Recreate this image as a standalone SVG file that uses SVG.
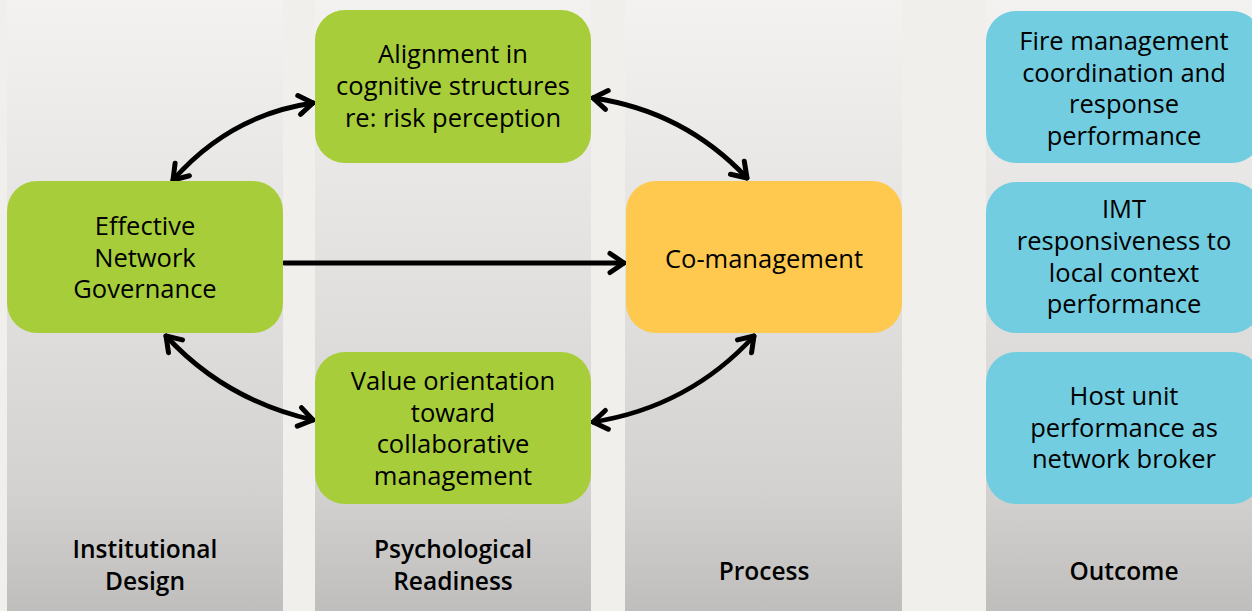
<svg xmlns="http://www.w3.org/2000/svg" width="1252" height="611" viewBox="0 0 1252 611">
<defs>
<linearGradient id="colg" x1="0" y1="0" x2="0" y2="1">
<stop offset="0" stop-color="#f3f2f0"/>
<stop offset="0.5" stop-color="#e0dfdd"/>
<stop offset="0.8" stop-color="#d3d2d0"/>
<stop offset="1" stop-color="#bfbebc"/>
</linearGradient>
<marker id="ah" markerUnits="userSpaceOnUse" markerWidth="40" markerHeight="40" refX="0" refY="0" viewBox="-20 -20 40 40" orient="auto-start-reverse" overflow="visible">
<path d="M-14,-9.5 L0,0 L-14,9.5" fill="none" stroke="#000" stroke-width="5" stroke-linecap="round" stroke-linejoin="round"/>
</marker>
<style>
.col{fill:url(#colg)}
.green{fill:#a7ce3a}
.yellow{fill:#fec94e}
.blue{fill:#72cde0}
.t{font-family:"Open Sans","Noto Sans",sans-serif;font-size:25.5px;fill:#000;text-anchor:middle}
.lab{font-family:"Open Sans","Noto Sans",sans-serif;font-size:24.5px;font-weight:600;fill:#000;text-anchor:middle}
.c{fill:none;stroke:#000;stroke-width:4.8;stroke-linecap:round}
</style>
</defs>
<rect x="0" y="0" width="1252" height="611" fill="#f0efec"/>
<g id="columns">
<rect class="col" x="7" y="0" width="276" height="611"/>
<rect class="col" x="315" y="0" width="276" height="611"/>
<rect class="col" x="625" y="0" width="277" height="611"/>
<rect class="col" x="986" y="0" width="266" height="611"/>
</g>
<g id="labels">
<text class="lab" x="145" y="558">Institutional</text>
<text class="lab" x="145" y="590">Design</text>
<text class="lab" x="453" y="558">Psychological</text>
<text class="lab" x="453" y="590">Readiness</text>
<text class="lab" x="764" y="580">Process</text>
<text class="lab" x="1124" y="580">Outcome</text>
</g>
<g id="connectors">
<path class="c" d="M173,180 Q230,115 313,103" marker-start="url(#ah)" marker-end="url(#ah)"/>
<path class="c" d="M593,98 Q684,111 747,178" marker-start="url(#ah)" marker-end="url(#ah)"/>
<path class="c" d="M166,336 Q225,400 313,420" marker-start="url(#ah)" marker-end="url(#ah)"/>
<path class="c" d="M593,422 Q689,407 754,336" marker-start="url(#ah)" marker-end="url(#ah)"/>
<path class="c" d="M284,263 L624,263" marker-end="url(#ah)"/>
</g>
<g id="node-eng">
<rect class="green" x="7" y="181" width="276" height="152" rx="30"/>
<text class="t" x="145" y="235">Effective</text>
<text class="t" x="145" y="267">Network</text>
<text class="t" x="145" y="298">Governance</text>
</g>
<g id="node-alignment">
<rect class="green" x="315" y="10" width="276" height="153" rx="30"/>
<text class="t" x="453" y="63">Alignment in</text>
<text class="t" x="453" y="95">cognitive structures</text>
<text class="t" x="453" y="127">re: risk perception</text>
</g>
<g id="node-value">
<rect class="green" x="315" y="352" width="276" height="152" rx="30"/>
<text class="t" x="453" y="390">Value orientation</text>
<text class="t" x="453" y="422">toward</text>
<text class="t" x="453" y="453">collaborative</text>
<text class="t" x="453" y="485">management</text>
</g>
<g id="node-comanagement">
<rect class="yellow" x="626" y="181" width="276" height="152" rx="30"/>
<text class="t" x="764" y="268">Co-management</text>
</g>
<g id="node-fire">
<rect class="blue" x="986" y="11" width="276" height="152" rx="30"/>
<text class="t" x="1124" y="50">Fire management</text>
<text class="t" x="1124" y="82">coordination and</text>
<text class="t" x="1124" y="113">response</text>
<text class="t" x="1124" y="145">performance</text>
</g>
<g id="node-imt">
<rect class="blue" x="986" y="182" width="276" height="151" rx="30"/>
<text class="t" x="1124" y="218">IMT</text>
<text class="t" x="1124" y="250">responsiveness to</text>
<text class="t" x="1124" y="282">local context</text>
<text class="t" x="1124" y="313">performance</text>
</g>
<g id="node-host">
<rect class="blue" x="986" y="352" width="276" height="152" rx="30"/>
<text class="t" x="1124" y="405">Host unit</text>
<text class="t" x="1124" y="437">performance as</text>
<text class="t" x="1124" y="468">network broker</text>
</g>
</svg>
